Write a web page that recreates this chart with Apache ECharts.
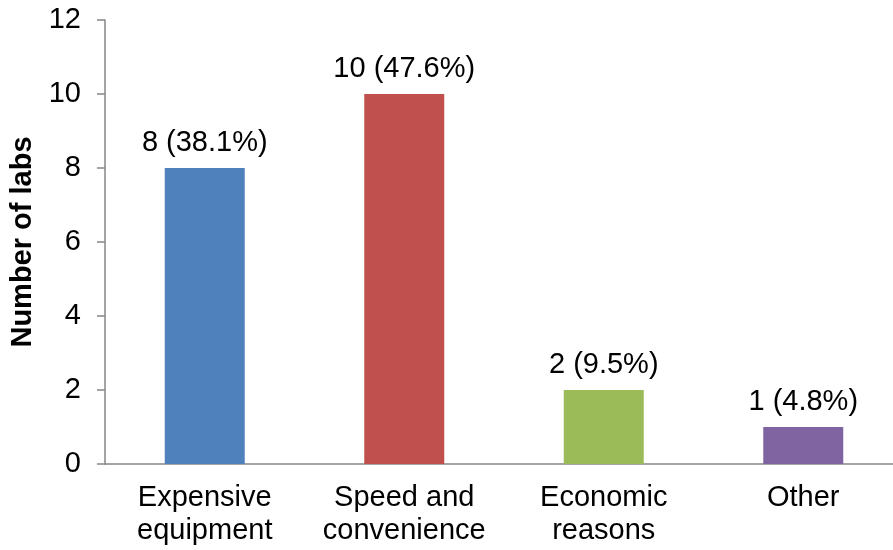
<!DOCTYPE html>
<html>
<head>
<meta charset="utf-8">
<title>Number of labs by reason</title>
<script src="https://cdn.jsdelivr.net/npm/echarts@6/dist/echarts.min.js"></script>
<style>
  html, body { margin: 0; padding: 0; background: #fff; }
  #chart { width: 893px; height: 550px; }
</style>
</head>
<body>
<div id="chart"></div>
<script>
// Reasons and how many labs gave each one
const categories = ['Expensive\nequipment', 'Speed and\nconvenience', 'Economic\nreasons', 'Other'];
const labCounts = [8, 10, 2, 1];
const percentLabels = ['38.1%', '47.6%', '9.5%', '4.8%'];
const barColors = ['#4F81BD', '#C0504D', '#9BBB59', '#8064A2'];
const yTicks = { min: 0, max: 12, interval: 2 };

const FONT = 'Arial, "Liberation Sans", sans-serif';
const AXIS_GREY = '#868686';

const chart = echarts.init(document.getElementById('chart'), null, { renderer: 'canvas' });

chart.setOption({
  animation: false,
  backgroundColor: '#ffffff',
  grid: {
    left: 105, right: -10, top: 20, bottom: 86,
    containLabel: false,
    outerBoundsMode: 'none'
  },
  xAxis: {
    type: 'category',
    data: categories,
    axisLine: { lineStyle: { color: AXIS_GREY, width: 1.5 } },
    axisTick: { show: false },
    axisLabel: {
      color: '#000', fontFamily: FONT, fontSize: 29, lineHeight: 33, margin: 17,
      interval: 0
    }
  },
  yAxis: {
    type: 'value',
    min: yTicks.min, max: yTicks.max, interval: yTicks.interval,
    name: 'Number of labs',
    nameLocation: 'middle',
    nameGap: 67,
    nameTextStyle: { color: '#000', fontFamily: FONT, fontSize: 29, fontWeight: 'bold' },
    axisLine: { show: true, lineStyle: { color: AXIS_GREY, width: 1.5 } },
    axisTick: { show: true, length: 8, lineStyle: { color: AXIS_GREY, width: 1.5 } },
    splitLine: { show: false },
    axisLabel: { color: '#000', fontFamily: FONT, fontSize: 29, margin: 24 }
  },
  series: [{
    type: 'bar',
    barWidth: 80,
    data: labCounts.map((v, i) => ({ value: v, itemStyle: { color: barColors[i] } })),
    label: {
      show: true, position: 'top', distance: 11,
      color: '#000', fontFamily: FONT, fontSize: 29,
      formatter: p => p.value + ' (' + percentLabels[p.dataIndex] + ')'
    }
  }]
});
</script>
</body>
</html>
